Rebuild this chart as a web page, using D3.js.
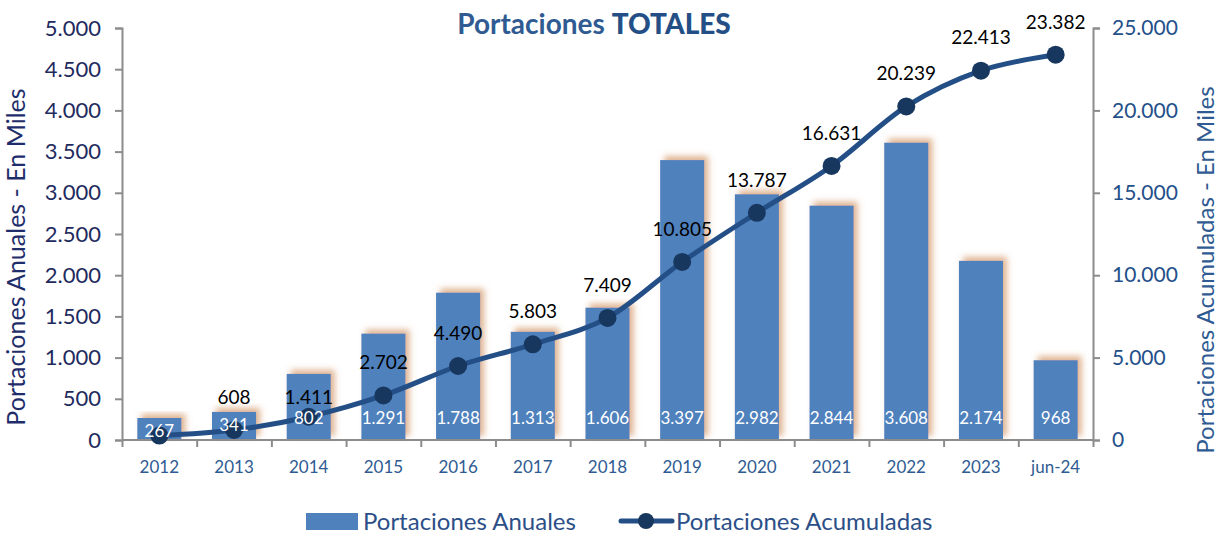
<!DOCTYPE html>
<html>
<head>
<meta charset="utf-8">
<script src="https://cdn.jsdelivr.net/npm/d3@7"></script>
<style>
  html, body { margin: 0; padding: 0; background: #fff; }
  svg { display: block; font-family: Lato, "Open Sans", sans-serif; }
</style>
</head>
<body>
<svg id="chart" width="1228" height="534"></svg>
<script>
// Categories and series (miles de portaciones)
const categories = ["2012", "2013", "2014", "2015", "2016", "2017", "2018", "2019", "2020", "2021", "2022", "2023", "jun-24"];
const anuales = [267, 341, 802, 1291, 1788, 1313, 1606, 3397, 2982, 2844, 3608, 2174, 968];
const acumuladas = [267, 608, 1411, 2702, 4490, 5803, 7409, 10805, 13787, 16631, 20239, 22413, 23382];
const leftTicks = [0, 500, 1000, 1500, 2000, 2500, 3000, 3500, 4000, 4500, 5000];
const rightTicks = [0, 5000, 10000, 15000, 20000, 25000];

const fmt = v => d3.format(",")(v).replace(/,/g, ".");

const svg = d3.select("#chart");
const plotL = 122, plotR = 1093, plotT = 28, plotB = 440;

const x = d3.scaleBand().domain(categories).range([plotL, plotR]).paddingInner(0.41).paddingOuter(0.205);
const xc = d => x(d) + x.bandwidth() / 2;
const yL = d3.scaleLinear().domain([0, 5000]).range([plotB, plotT]);
const yR = d3.scaleLinear().domain([0, 25000]).range([plotB, plotT]);

// Soft warm drop shadow behind the columns
const defs = svg.append("defs");
const f = defs.append("filter").attr("id", "glow").attr("x", "-30%").attr("y", "-30%").attr("width", "160%").attr("height", "160%");
f.append("feGaussianBlur").attr("in", "SourceAlpha").attr("stdDeviation", 3).attr("result", "b");
f.append("feOffset").attr("in", "b").attr("dx", 4).attr("dy", -4).attr("result", "o");
f.append("feFlood").attr("flood-color", "#d49a6c").attr("flood-opacity", 0.75);
f.append("feComposite").attr("in2", "o").attr("operator", "in").attr("result", "s");
const m = f.append("feMerge");
m.append("feMergeNode").attr("in", "s");
m.append("feMergeNode").attr("in", "SourceGraphic");

// Title
const title = svg.append("text").attr("x", 594).attr("y", 34).attr("text-anchor", "middle")
  .attr("font-size", 28).attr("font-weight", 700).attr("fill", "#2f5b92");
title.append("tspan").text("Portaciones ");
title.append("tspan").attr("font-weight", 900).attr("fill", "#244f86").text("TOTALES");

// Columns
svg.append("g").selectAll("rect").data(anuales).join("rect")
  .attr("x", (d, i) => x(categories[i]))
  .attr("y", d => yL(d))
  .attr("width", x.bandwidth())
  .attr("height", d => plotB - yL(d))
  .attr("fill", "#4f81bd")
  .attr("filter", "url(#glow)");

// Axes
const axisColor = "#8c8c8c";
const gL = svg.append("g").attr("transform", `translate(${plotL},0)`)
  .call(d3.axisLeft(yL).tickValues(leftTicks).tickFormat(fmt).tickSize(7).tickPadding(14));
const gR = svg.append("g").attr("transform", `translate(${plotR},0)`)
  .call(d3.axisRight(yR).tickValues(rightTicks).tickFormat(fmt).tickSize(7).tickPadding(12));
const xb = d3.scaleLinear().domain([0, categories.length]).range([plotL, plotR]);
const gX = svg.append("g").attr("transform", `translate(0,${plotB})`)
  .call(d3.axisBottom(xb).tickValues(d3.range(0, categories.length + 1)).tickSize(7).tickFormat(""));
[gL, gR, gX].forEach(g => {
  g.select(".domain").attr("stroke", axisColor).attr("stroke-width", 2);
  g.selectAll(".tick line").attr("stroke", axisColor).attr("stroke-width", 2);
});
gL.selectAll(".tick text").attr("font-size", 22).attr("fill", "#1f2b5e").attr("font-family", "Lato");
gR.selectAll(".tick text").attr("font-size", 21).attr("fill", "#24508a").attr("font-family", "Lato");
gX.select(".domain").attr("d", `M${plotL},0H${plotR}`);

// Category labels
svg.append("g").selectAll("text").data(categories).join("text")
  .attr("x", d => xc(d)).attr("y", 473).attr("text-anchor", "middle")
  .attr("font-size", 17).attr("fill", "#2f5b92").text(d => d);

// Axis titles
svg.append("text").attr("transform", `translate(25,257) rotate(-90)`).attr("text-anchor", "middle")
  .attr("font-size", 25).attr("fill", "#1f2e6a").text("Portaciones Anuales - En Miles");
svg.append("text").attr("transform", `translate(1214,270) rotate(-90)`).attr("text-anchor", "middle")
  .attr("font-size", 24).attr("fill", "#2f5b92").text("Portaciones Acumuladas - En Miles");

// Cumulative line
const line = d3.line().x((d, i) => xc(categories[i])).y(d => yR(d)).curve(d3.curveCardinal.tension(0));
svg.append("path").datum(acumuladas).attr("d", line)
  .attr("fill", "none").attr("stroke", "#234f86").attr("stroke-width", 5);
svg.append("g").selectAll("circle").data(acumuladas).join("circle")
  .attr("cx", (d, i) => xc(categories[i])).attr("cy", d => yR(d)).attr("r", 9)
  .attr("fill", "#17375e");

// Column value labels
svg.append("g").selectAll("text").data(anuales).join("text")
  .attr("x", (d, i) => xc(categories[i]))
  .attr("y", d => Math.max(yL(d) + 13, plotB - 22))
  .attr("dy", "0.36em").attr("text-anchor", "middle")
  .attr("font-size", 17).attr("fill", "#ffffff").text(d => fmt(d));

// Cumulative value labels (first one shares the column label)
const labelLift = categories.map(c => c === "2014" ? 20 : 33);
svg.append("g").selectAll("text").data(acumuladas.slice(1)).join("text")
  .attr("x", (d, i) => xc(categories[i + 1]))
  .attr("y", (d, i) => yR(d) - labelLift[i + 1])
  .attr("dy", "0.36em").attr("text-anchor", "middle")
  .attr("font-size", 19).attr("fill", "#000").text(d => fmt(d));

// Legend
const lg = svg.append("g");
lg.append("rect").attr("x", 306).attr("y", 513).attr("width", 52).attr("height", 17).attr("fill", "#4f81bd");
lg.append("text").attr("x", 363).attr("y", 530).attr("font-size", 24).attr("fill", "#2c4f88").text("Portaciones Anuales");
lg.append("line").attr("x1", 621).attr("x2", 672).attr("y1", 521).attr("y2", 521)
  .attr("stroke", "#234f86").attr("stroke-width", 5).attr("stroke-linecap", "round");
lg.append("circle").attr("cx", 646).attr("cy", 521).attr("r", 8).attr("fill", "#17375e");
lg.append("text").attr("x", 676).attr("y", 530).attr("font-size", 24).attr("fill", "#2c4f88").text("Portaciones Acumuladas");
</script>
</body>
</html>
